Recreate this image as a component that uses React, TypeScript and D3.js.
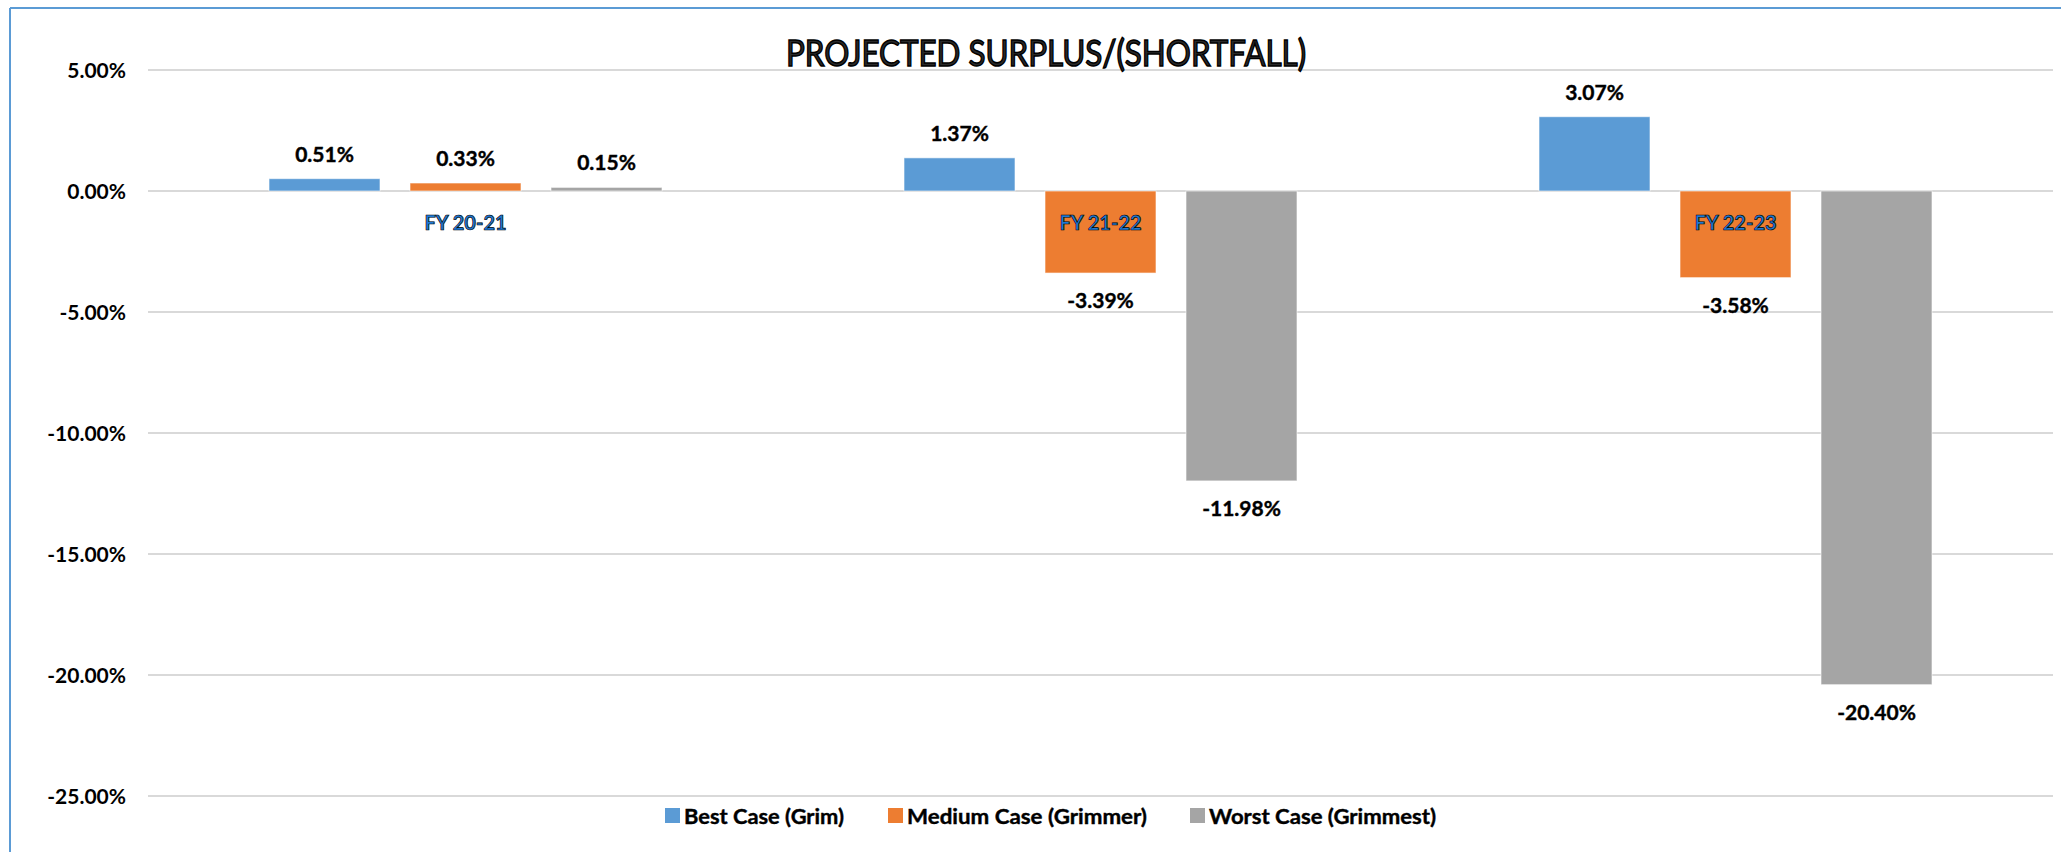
import React from "react";
import * as d3 from "d3";

const categories = ["FY 20-21", "FY 21-22", "FY 22-23"];
const seriesNames = ["Best Case (Grim)", "Medium Case (Grimmer)", "Worst Case (Grimmest)"];
const seriesColors = ["#5b9bd5", "#ed7d31", "#a5a5a5"];
const bestCase = [0.51, 1.37, 3.07];
const mediumCase = [0.33, -3.39, -3.58];
const worstCase = [0.15, -11.98, -20.40];
const yTicks = [5, 0, -5, -10, -15, -20, -25];
const title = "PROJECTED SURPLUS/(SHORTFALL)";

const W = 2061;
const H = 852;
const FONT = "Lato, 'Open Sans', sans-serif";

export default function App() {
  const series = [bestCase, mediumCase, worstCase];
  const x0 = d3.scaleBand<string>().domain(categories).range([148, 2053]).paddingInner(0).paddingOuter(0);
  const groupWidth = 393;
  const x1 = d3
    .scaleBand<number>()
    .domain([0, 1, 2])
    .range([0, groupWidth])
    .paddingInner(30 / 141)
    .paddingOuter(0);
  const y = d3.scaleLinear().domain([-25, 5]).range([796, 70]);
  const fmt = (v: number) => v.toFixed(2) + "%";

  const legendX = [665, 888, 1190];
  const legendLen = [160, 240, 227];

  return (
    <div style={{ position: "absolute", left: 0, top: 0 }}>
      <svg width={W} height={H} style={{ display: "block", background: "#fff" }}>
        {/* chart border (partial) */}
        <line x1={10} y1={8} x2={W} y2={8} stroke="#5b9bd5" strokeWidth={2} />
        <line x1={10} y1={8} x2={10} y2={H} stroke="#5b9bd5" strokeWidth={2} />

        {/* gridlines */}
        {yTicks.map((t) => (
          <line key={"g" + t} x1={148} x2={2053} y1={y(t)} y2={y(t)} stroke="#d9d9d9" strokeWidth={2} />
        ))}

        {/* y tick labels */}
        {yTicks.map((t) => (
          <text
            key={"t" + t}
            x={126}
            y={y(t)}
            dy="0.36em"
            textAnchor="end"
            fontFamily={FONT}
            fontWeight={700}
            fontSize={21}
            fill="#000"
          >
            {fmt(t)}
          </text>
        ))}

        {/* title */}
        <text
          x={1046}
          y={66}
          textAnchor="middle"
          fontFamily={FONT}
          fontSize={37}
          fill="#2a2a2a"
          stroke="#000"
          strokeWidth={1.5}
          textLength={520}
          lengthAdjust="spacingAndGlyphs"
        >
          {title}
        </text>

        {/* bars */}
        {categories.map((c, ci) => {
          const gx = (x0(c) as number) + (x0.bandwidth() - groupWidth) / 2;
          return (
            <g key={c} transform={`translate(${gx},0)`}>
              {series.map((s, si) => {
                const v = s[ci];
                const top = y(Math.max(0, v));
                const h = Math.abs(y(v) - y(0));
                return (
                  <rect
                    key={si}
                    x={x1(si)}
                    y={top}
                    width={x1.bandwidth()}
                    height={h}
                    fill={seriesColors[si]}
                    stroke="#ffffff"
                    strokeOpacity={0.6}
                    strokeWidth={1}
                  />
                );
              })}
            </g>
          );
        })}

        {/* category labels */}
        {categories.map((c) => (
          <text
            key={"c" + c}
            x={(x0(c) as number) + x0.bandwidth() / 2}
            y={y(0) + 39}
            textAnchor="middle"
            fontFamily={FONT}
            fontWeight={700}
            fontSize={20}
            fill="#1f7ad6"
            stroke="#000"
            strokeWidth={0.7}
          >
            {c}
          </text>
        ))}

        {/* data labels */}
        {categories.map((c, ci) => {
          const gx = (x0(c) as number) + (x0.bandwidth() - groupWidth) / 2;
          return (
            <g key={"d" + c} transform={`translate(${gx},0)`}>
              {series.map((s, si) => {
                const v = s[ci];
                const cx = (x1(si) as number) + x1.bandwidth() / 2;
                const ly = v >= 0 ? y(v) - 17 : y(v) + 35;
                return (
                  <text
                    key={si}
                    x={cx}
                    y={ly}
                    textAnchor="middle"
                    fontFamily={FONT}
                    fontWeight={700}
                    fontSize={21}
                    fill="#000"
                    stroke="#000"
                    strokeWidth={0.4}
                  >
                    {fmt(v)}
                  </text>
                );
              })}
            </g>
          );
        })}

        {/* legend */}
        {seriesNames.map((n, i) => (
          <g key={"l" + n}>
            <rect x={legendX[i]} y={808} width={15} height={15} fill={seriesColors[i]} />
            <text
              x={legendX[i] + 19}
              y={816}
              dy="0.36em"
              fontFamily={FONT}
              fontWeight={700}
              fontSize={21}
              fill="#000"
              stroke="#000"
              strokeWidth={0.4}
              textLength={legendLen[i]}
              lengthAdjust="spacingAndGlyphs"
            >
              {n}
            </text>
          </g>
        ))}
      </svg>
    </div>
  );
}
